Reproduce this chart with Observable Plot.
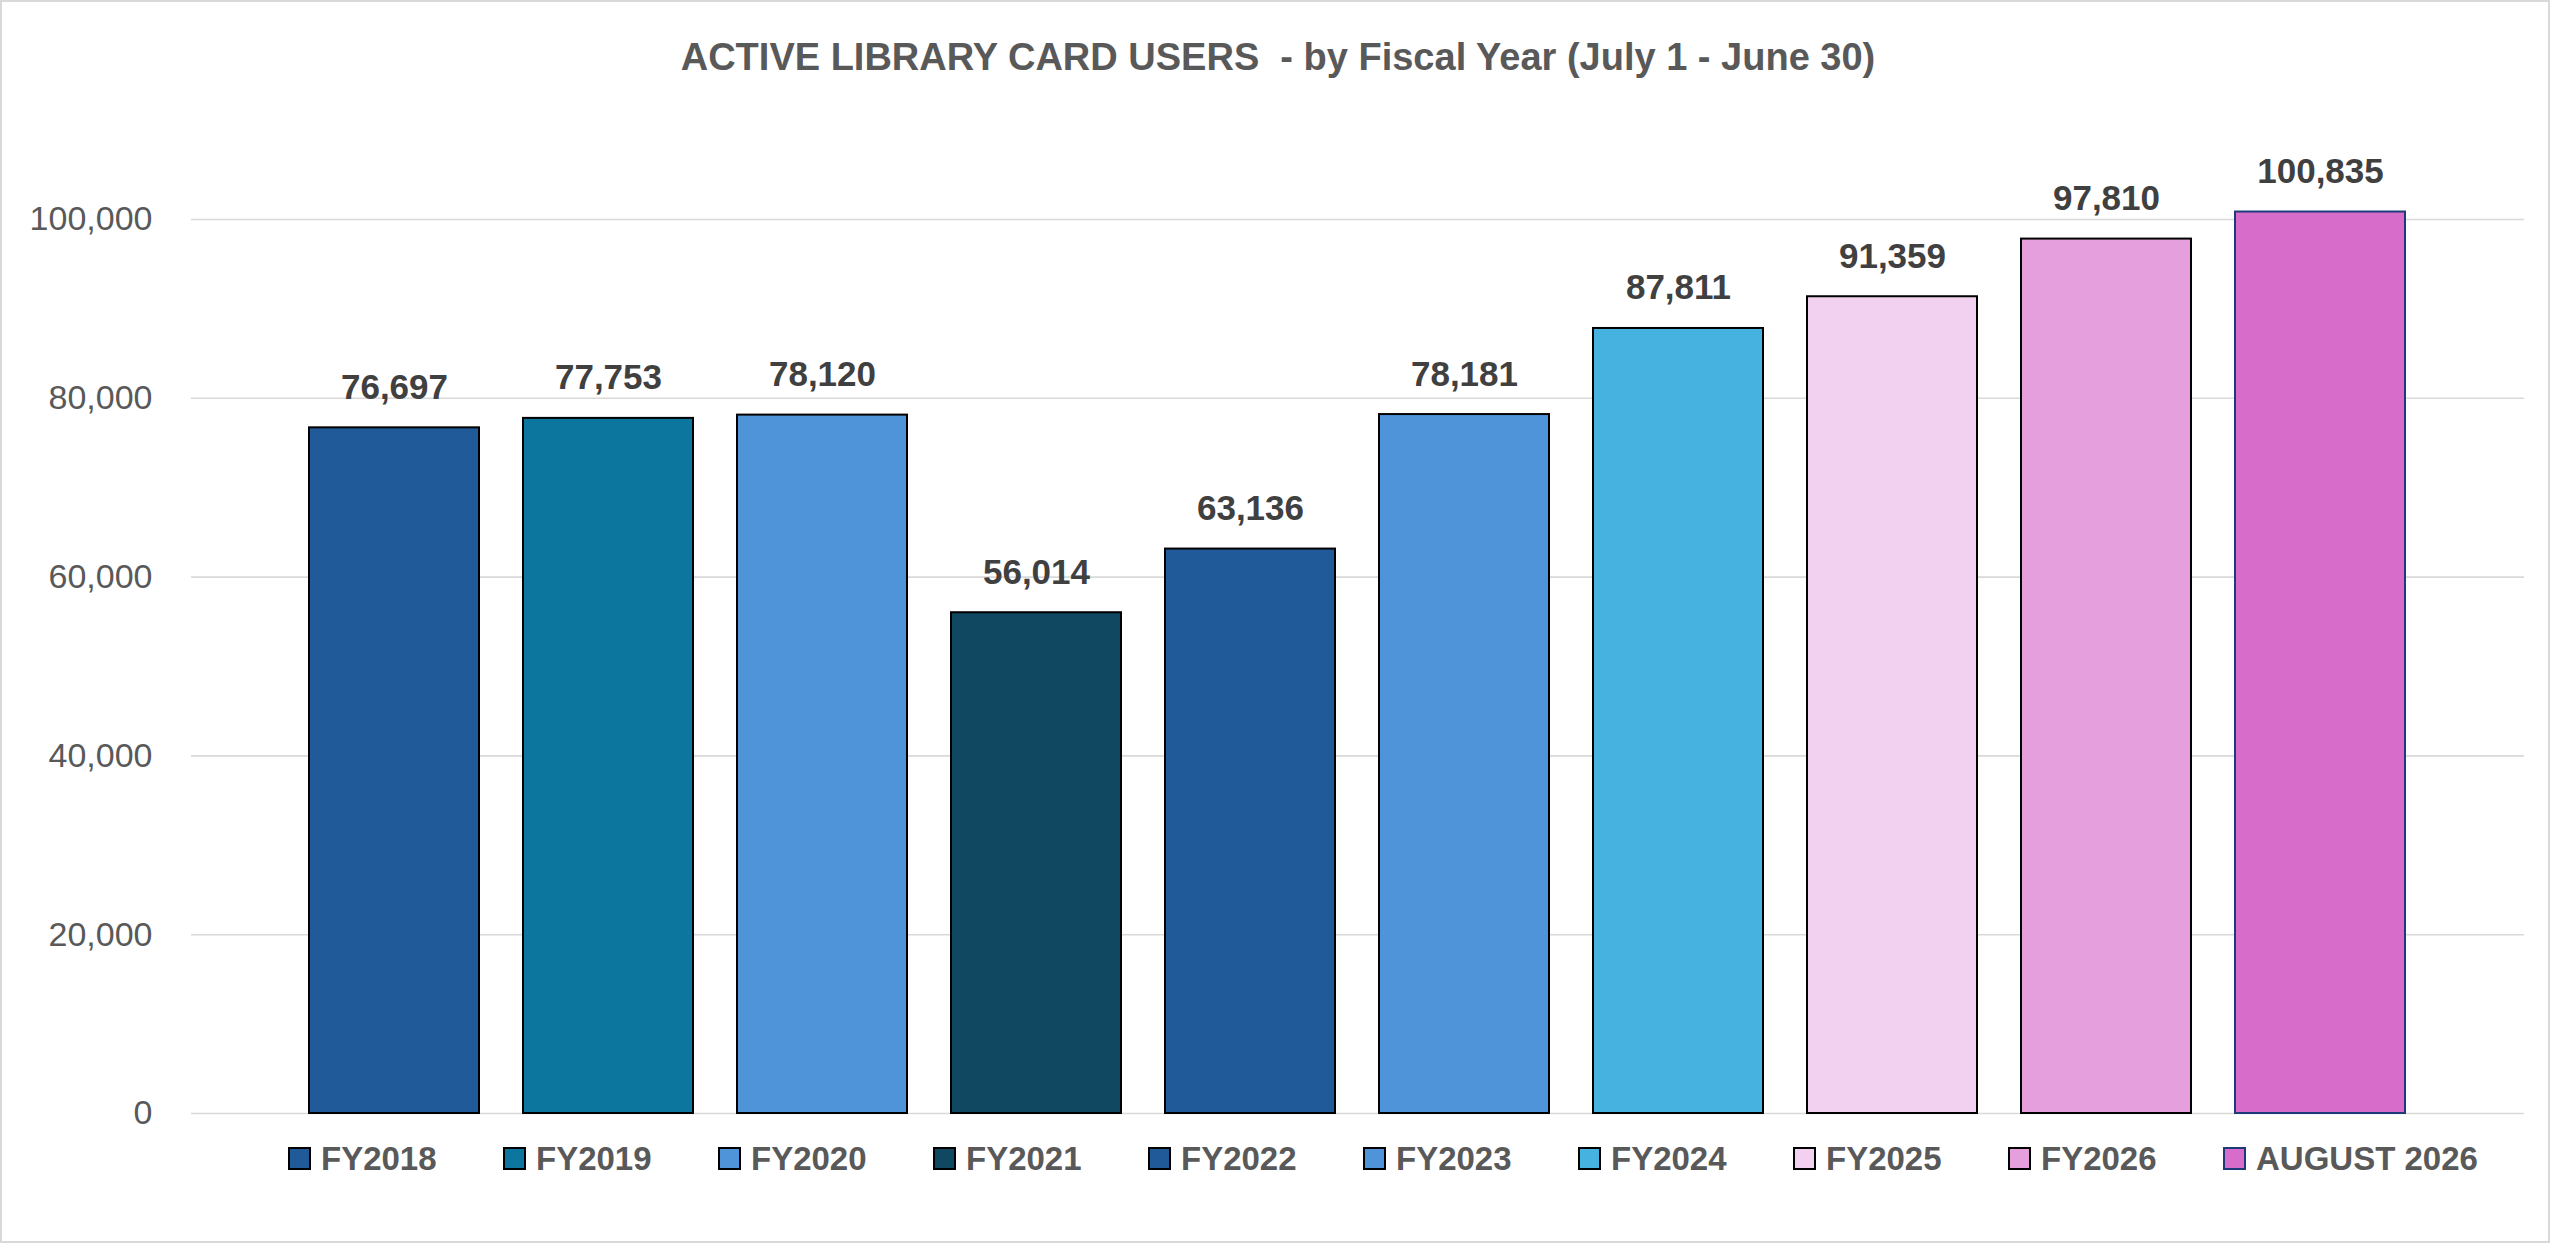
<!DOCTYPE html>
<html>
<head>
<meta charset="utf-8">
<script src="https://cdn.jsdelivr.net/npm/d3@7"></script>
<script src="https://cdn.jsdelivr.net/npm/@observablehq/plot@0.6"></script>
<style>
  html, body { margin: 0; padding: 0; background: #ffffff; }
  body { width: 2560px; height: 1243px; position: relative; overflow: hidden; font-family: "Liberation Sans", Arial, sans-serif; }
  #frame { position: absolute; left: 0; top: 0; width: 2550px; height: 1243px; box-sizing: border-box; border: 2px solid #d9d9d9; }
  #title { position: absolute; left: 0; top: 38px; width: 2556px; text-align: center; font-size: 38px; line-height: 38px; font-weight: bold; color: #595959; white-space: pre; }
  #chart { position: absolute; left: 0; top: 110px; }
  #legend { position: absolute; left: 288px; top: 1140px; display: flex; }
  .item { flex: 0 0 215px; width: 215px; display: flex; align-items: center; height: 37px; }
  .sw { flex: 0 0 23px; width: 23px; height: 23px; box-sizing: border-box; border: 2px solid #000; margin-right: 10px; }
  .lab { font-size: 33px; font-weight: bold; color: #595959; white-space: nowrap; }
</style>
</head>
<body>
<div id="frame"></div>
<div id="title">ACTIVE LIBRARY CARD USERS  - by Fiscal Year (July 1 - June 30)</div>
<div id="chart"></div>
<div id="legend"></div>
<script>
const categories = ["FY2018", "FY2019", "FY2020", "FY2021", "FY2022", "FY2023", "FY2024", "FY2025", "FY2026", "AUGUST 2026"];
const users = [76697, 77753, 78120, 56014, 63136, 78181, 87811, 91359, 97810, 100835];
const colors = ["#215A98", "#0C769E", "#4F94D9", "#104862", "#215A98", "#4F94D9", "#45B2E0", "#F2D0EF", "#E59FDD", "#D86CCB"];
const strokes = ["#000", "#000", "#000", "#000", "#000", "#000", "#000", "#000", "#000", "#1F3A78"];
const yTicks = [0, 20000, 40000, 60000, 80000, 100000];

const data = categories.map((c, i) => ({category: c, value: users[i], color: colors[i], stroke: strokes[i]}));

const chart = Plot.plot({
  width: 2560,
  height: 1020,
  marginTop: 109,
  marginBottom: 17,
  marginLeft: 191,
  marginRight: 36,
  style: {background: "transparent", fontFamily: "'Liberation Sans', Arial, sans-serif"},
  x: {domain: categories, range: [191, 2523], paddingInner: 0.2072, paddingOuter: 0.5316, axis: null},
  y: {domain: [0, 100000], axis: null, label: null},
  marks: [
    Plot.ruleY(yTicks, {stroke: "#d9d9d9", strokeWidth: 1.6}),
    Plot.axisY({ticks: yTicks, label: null, tickSize: 0, tickPadding: 39, tickFormat: d3.format(","), fontSize: 34, fill: "#595959", color: "#595959"}),
    Plot.barY(data, {x: "category", y: "value", fill: "color", stroke: "stroke", strokeWidth: 2}),
    Plot.text(data, {x: "category", y: "value", text: d => d3.format(",")(d.value), lineAnchor: "bottom", dy: -29, fontSize: 35, fontWeight: "bold", fill: "#404040"})
  ]
});
document.getElementById("chart").appendChild(chart);

const legend = document.getElementById("legend");
categories.forEach((c, i) => {
  const item = document.createElement("div");
  item.className = "item";
  const sw = document.createElement("div");
  sw.className = "sw";
  sw.style.background = colors[i];
  sw.style.borderColor = strokes[i];
  const lab = document.createElement("div");
  lab.className = "lab";
  lab.textContent = c;
  item.appendChild(sw);
  item.appendChild(lab);
  legend.appendChild(item);
});
</script>
</body>
</html>
